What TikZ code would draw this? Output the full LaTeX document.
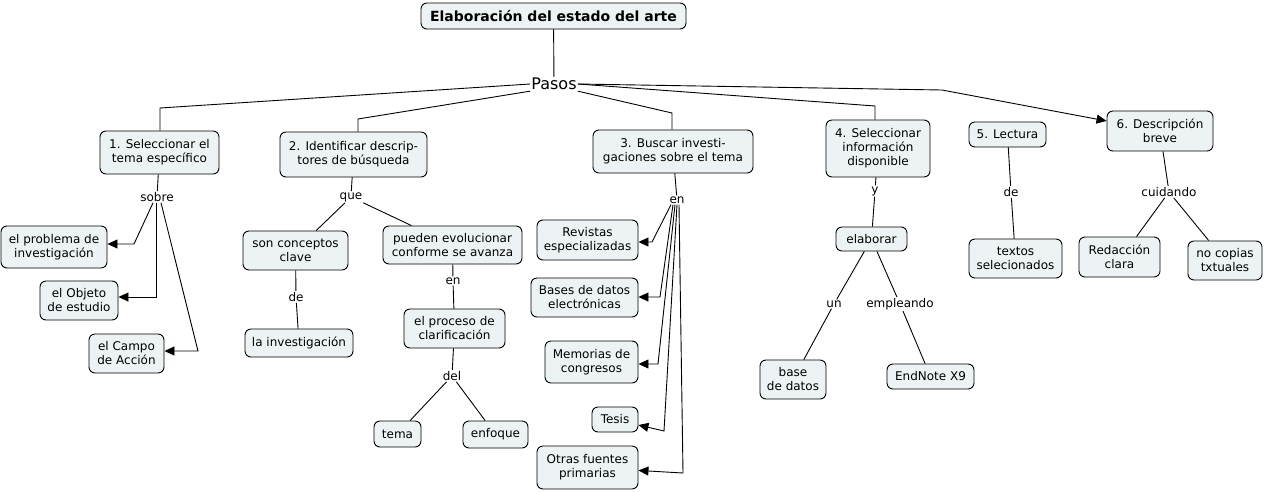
\documentclass[tikz,border=0pt]{standalone}
\usepackage{fontspec}
\setmainfont{DejaVu Sans}
\usetikzlibrary{arrows.meta}
\definecolor{boxfill}{HTML}{EDF3F5}
\begin{document}
\begin{tikzpicture}[x=1pt,y=-1pt,
  box/.style={draw, rounded corners=6pt, fill=boxfill, align=center, inner sep=0pt,
    font=\fontsize{12}{14}\selectfont, line width=0.9pt},
  lbl/.style={inner sep=1pt, font=\fontsize{12}{14}\selectfont},
  link/.style={line width=0.9pt},
  arr/.style={link, -{Triangle[length=10pt,width=9pt]}}]
\useasboundingbox (0,0) rectangle (1264,491);
\fill[white] (0,0) rectangle (1264,491);
% main boxes
\node[box, font=\fontsize{14}{16}\selectfont\bfseries, minimum width=265, minimum height=26] (title) at (553.5,16) {Elaboración del estado del arte};
\node[inner sep=1pt, font=\fontsize{16}{18}\selectfont] (pasos) at (554,84) {Pasos};
\node[box, minimum width=119, minimum height=43] (n1) at (159.5,152.5) {1. Seleccionar el\\tema específico};
\node[box, minimum width=147, minimum height=45] (n2) at (353.5,154.5) {2. Identificar descrip-\\tores de búsqueda};
\node[box, minimum width=160, minimum height=43] (n3) at (673,151.5) {3. Buscar investi-\\gaciones sobre el tema};
\node[box, minimum width=104, minimum height=57] (n4) at (878,148.5) {4. Seleccionar\\información\\disponible};
\node[box, minimum width=77, minimum height=25] (n5) at (1007.5,134.5) {5. Lectura};
\node[box, minimum width=106, minimum height=40] (n6) at (1160,131) {6. Descripción\\breve};
% step 1
\node[box, minimum width=106, minimum height=42] (prob) at (54,247) {el problema de\\investigación};
\node[box, minimum width=78, minimum height=39] (obj) at (79,300.5) {el Objeto\\de estudio};
\node[box, minimum width=75, minimum height=39] (campo) at (126.5,353.5) {el Campo\\de Acción};
% step 2
\node[box, minimum width=105, minimum height=39] (conc) at (295.5,250.5) {son conceptos\\clave};
\node[box, minimum width=139, minimum height=38] (pued) at (452.5,245) {pueden evolucionar\\conforme se avanza};
\node[box, minimum width=108, minimum height=28] (inv) at (299,343) {la investigación};
\node[box, minimum width=101, minimum height=39] (proc) at (454.5,328.5) {el proceso de\\clarificación};
\node[box, minimum width=47, minimum height=26] (tema) at (397.5,434) {tema};
\node[box, minimum width=65, minimum height=27] (enf) at (495.5,434.5) {enfoque};
% step 3
\node[box, minimum width=101, minimum height=40] (rev) at (587.5,240) {Revistas\\especializadas};
\node[box, minimum width=107, minimum height=39] (bases) at (584.5,297.5) {Bases de datos\\electrónicas};
\node[box, minimum width=93, minimum height=42] (mem) at (591.5,362) {Memorias de\\congresos};
\node[box, minimum width=46, minimum height=25] (tesis) at (615,419.5) {Tesis};
\node[box, minimum width=101, minimum height=43] (otras) at (587.5,467.5) {Otras fuentes\\primarias};
% step 4
\node[box, minimum width=71, minimum height=24] (elab) at (871.5,239) {elaborar};
\node[box, minimum width=66, minimum height=39] (based) at (793,379.5) {base\\de datos};
\node[box, minimum width=87, minimum height=25] (endn) at (930.5,376.5) {EndNote X9};
% step 5, 6
\node[box, minimum width=93, minimum height=39] (textos) at (1015.5,258.5) {textos\\selecionados};
\node[box, minimum width=81, minimum height=40] (redac) at (1119.5,257) {Redacción\\clara};
\node[box, minimum width=74, minimum height=39] (nocop) at (1225,260.5) {no copias\\txtuales};
% linking phrases
\node[lbl] (sobre) at (157,197) {sobre};
\node[lbl] (que) at (351,197) {que};
\node[lbl] (de1) at (296,297) {de};
\node[lbl] (en1) at (453,281) {en};
\node[lbl] (del) at (452,376) {del};
\node[lbl] (en2) at (677,200) {en};
\node[lbl] (y) at (875,191) {y};
\node[lbl] (un) at (834,304) {un};
\node[lbl] (empl) at (900,304) {empleando};
\node[lbl] (de2) at (1011,192) {de};
\node[lbl] (cuid) at (1169,192) {cuidando};
% bend points
\coordinate (b1) at (160,108);
\coordinate (b2) at (358,119);
\coordinate (b3) at (672,113);
\coordinate (b4) at (875,106);
\coordinate (b6) at (942,90);
\coordinate (s1) at (134,244);
\coordinate (s2) at (156,297);
\coordinate (s3) at (198,351);
\coordinate (e1) at (652,242);
\coordinate (e2) at (660,297);
\coordinate (e3) at (658,364);
\coordinate (e4) at (664,431);
\coordinate (e5) at (683,473);
% connectors
\draw[link] (title) -- (pasos);
\draw[link] (pasos.west) -- (b1) -- (b1 |- n1.north);
\draw[link] (pasos.south west) -- (b2) -- (b2 |- n2.north);
\draw[link] (pasos.south east) -- (b3) -- (b3 |- n3.north);
\draw[link] (pasos.east) -- (b4) -- (b4 |- n4.north);
\draw[arr] (pasos.east) -- (b6) -- (n6);
% step 1
\draw[link] (n1) -- (sobre);
\draw[arr] ([xshift=-4pt]sobre.south) -- (s1) -- (prob.east |- s1);
\draw[arr] ([xshift=-1pt]sobre.south) -- (s2) -- (obj.east |- s2);
\draw[arr] ([xshift=4pt]sobre.south) -- (s3) -- (campo.east |- s3);
% step 2
\draw[link] (n2) -- (que);
\draw[link] (que) -- (conc);
\draw[link] (que) -- (pued);
\draw[link] (conc) -- (de1);
\draw[link] (de1) -- (inv);
\draw[link] (pued) -- (en1);
\draw[link] (en1) -- (proc);
\draw[link] (proc) -- (del);
\draw[link] (del) -- (tema);
\draw[link] (del) -- (enf);
% step 3
\draw[link] (n3) -- (en2);
\draw[arr] ([xshift=-6pt]en2.south) -- (e1) -- (rev.east |- e1);
\draw[arr] ([xshift=-4pt]en2.south) -- (e2) -- (bases.east |- e2);
\draw[arr] ([xshift=-2pt]en2.south) -- (e3) -- (mem.east |- e3);
\draw[arr] ([xshift=0pt]en2.south) -- (e4) -- (tesis);
\draw[arr] ([xshift=2pt]en2.south) -- (e5) -- (otras);
% step 4
\draw[link] (n4) -- (y);
\draw[link] (y) -- (elab);
\draw[link] (elab) -- (un);
\draw[link] (un) -- (based);
\draw[link] (elab) -- (empl);
\draw[link] (empl) -- (endn);
% step 5
\draw[link] (n5) -- (de2);
\draw[link] (de2) -- (textos);
% step 6
\draw[link] (n6) -- (cuid);
\draw[link] (cuid) -- ([xshift=17pt]redac.north);
\draw[link] (cuid) -- (nocop);
\end{tikzpicture}
\end{document}
